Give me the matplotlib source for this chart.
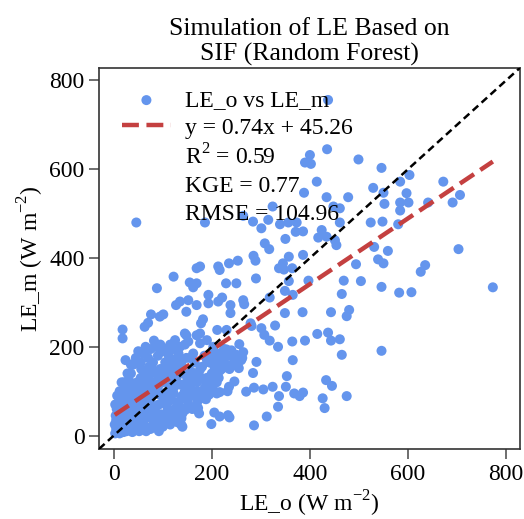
import numpy as np
import matplotlib
matplotlib.use("Agg")
import matplotlib.pyplot as plt

plt.rcParams["font.family"] = ["Liberation Serif", "DejaVu Serif"]
plt.rcParams["mathtext.fontset"] = "custom"
plt.rcParams["mathtext.rm"] = "Liberation Serif"

# observed LE (x) and modelled LE (y), read off the reference
# sparse / outer points
le_o_outer = [437, 435, 400, 390, 402, 499, 546, 603, 584, 672, 414, 529, 550, 597, 706,
              388, 434, 478, 552, 584, 601, 641, 691, 448, 461, 324, 584, 264, 284, 315,
              186, 46, 339, 356, 373, 461, 524, 548, 580, 301, 371, 386, 424, 434, 417,
              350, 451, 454, 308, 317, 531, 559, 703, 386, 357, 285, 289, 253, 235, 213,
              216, 539, 550, 635, 494, 345, 347, 364, 337, 626, 176, 169, 122, 290, 397,
              469, 504, 357, 155, 169, 229, 250, 162, 88, 546, 773, 582, 607, 465, 365,
              349, 193, 221, 318, 264, 266, 135, 152, 127, 169, 193, 213, 238, 148, 238,
              349, 385, 443, 480, 475, 76, 101, 94, 182, 178, 70, 63, 279, 281, 301,
              329, 18, 18, 82, 145, 176, 211, 230, 415, 437, 307, 318, 335, 364, 390,
              443, 461, 546, 465, 365, 291, 24, 256, 230, 284, 353, 433, 445, 351, 386,
              379, 368, 475, 426, 430, 337, 335, 324, 305, 270, 286, 312, 286, 235, 233,
              236, 216, 205, 199, 169, 174, 138, 138, 118, 184, 203, 210,
              250, 260, 255, 244, 237, 216, 203, 190, 206, 216, 176, 158, 193, 189, 203,
              162, 158, 153, 138, 162, 152, 176, 203, 190, 148, 169]
le_m_outer = [756, 645, 632, 615, 612, 622, 603, 587, 572, 572, 572, 558, 547, 546, 542,
              547, 537, 537, 522, 525, 525, 525, 525, 516, 512, 516, 507, 495, 482, 486,
              480, 480, 476, 480, 480, 480, 480, 482, 476, 467, 459, 460, 463, 448, 446,
              443, 440, 429, 433, 420, 425, 416, 420, 407, 403, 405, 394, 394, 388, 381,
              373, 397, 388, 384, 386, 388, 374, 377, 377, 369, 381, 377, 358, 354, 349,
              349, 348, 348, 345, 343, 343, 343, 334, 332, 335, 334, 322, 323, 319, 317,
              326, 317, 311, 311, 305, 296, 302, 305, 294, 294, 298, 302, 294, 279, 276,
              276, 278, 278, 283, 269, 273, 273, 268, 262, 253, 254, 245, 253, 247, 242,
              248, 239, 219, 214, 230, 230, 238, 238, 229, 232, 227, 214, 200, 212, 214,
              214, 217, 191, 182, 170, 166, 170, 206, 194, 141, 134, 125, 112, 110, 97,
              89, 95, 89, 84, 62, 89, 65, 110, 104, 99, 108, 43, 23, 110, 46,
              41, 43, 52, 26, 59, 50, 24, 39, 39, 84, 103, 95,
              182, 170, 152, 159, 180, 185, 174, 170, 155, 146, 149, 144, 125, 114, 125,
              122, 103, 95, 84, 185, 212, 208, 200, 215, 226, 226]

# dense cluster near the origin
le_o_core = [3, 5, 8, 10, 12, 15, 18, 20, 22, 25, 28, 30, 32, 35, 38, 40, 42, 45, 48, 50,
             5, 8, 10, 12, 15, 18, 20, 22, 25, 28, 30, 33, 36, 40, 42, 45, 48, 50, 52, 55,
             58, 60, 62, 65, 68, 70, 72, 75, 78, 80, 82, 85, 88, 90, 92, 95, 98, 100, 102, 105,
             108, 110, 112, 115, 118, 120, 122, 125, 128, 130, 132, 135, 138, 140, 142, 145, 148, 150,
             60, 65, 70, 75, 80, 85, 90, 95, 100, 105, 110, 115, 120, 125, 130, 135, 140,
             55, 60, 70, 80, 90, 100, 110, 120, 130, 140, 150, 155, 160, 165, 170, 175, 180,
             185, 190, 195, 200, 205, 210, 215, 220, 225, 230, 160, 170, 180, 195,
             15, 18, 25, 30, 35, 40, 45, 50, 55, 60, 65, 70, 75, 85, 95, 105, 115, 125, 135, 145,
             2, 4, 6, 3, 10, 7, 12, 20, 28, 35,
             14, 24, 34, 44, 54, 64, 74, 84, 94, 104, 114, 124, 16, 26, 36, 46, 56, 66, 76, 86,
             96, 106, 116, 126, 136, 146, 156, 166, 176, 186, 196, 206, 216, 226, 236, 246, 256,
             38, 52, 66, 78, 92, 108, 118, 128, 62, 72, 82, 92, 102, 112, 122, 132, 142, 152,
             170, 182, 194, 208, 222, 240, 252, 264, 172, 188, 200, 214, 232, 246, 262]
le_m_core = [5, 15, 10, 25, 5, 18, 30, 8, 40, 20, 12, 35, 50, 25, 8, 45, 18, 60, 30, 12,
             35, 45, 55, 40, 62, 50, 70, 58, 80, 68, 90, 75, 100, 85, 110, 95, 120, 75, 105, 130,
             90, 115, 145, 60, 100, 130, 155, 80, 120, 165, 50, 140, 105, 180, 70, 150, 125, 190, 85, 165,
             140, 60, 180, 110, 150, 195, 95, 170, 130, 75, 185, 115, 160, 50, 140, 100, 175, 130,
             30, 20, 45, 15, 35, 25, 40, 30, 20, 45, 35, 25, 55, 40, 30, 65, 20,
             45, 70, 85, 95, 110, 120, 100, 125, 145, 90, 80, 110, 140, 165, 120, 95, 155,
             180, 130, 165, 185, 140, 120, 170, 150, 195, 160, 60, 75, 100, 110,
             85, 100, 110, 125, 140, 160, 175, 190, 165, 185, 200, 175, 195, 200, 205, 195, 205, 215, 200, 205,
             25, 45, 60, 70, 75, 90, 100, 120, 140, 160,
             28, 52, 68, 22, 84, 38, 108, 58, 92, 72, 132, 112, 120, 10, 42, 78, 150, 10, 66, 120,
             48, 150, 80, 62, 168, 58, 175, 88, 132, 108, 165, 152, 98, 178, 150, 168, 178,
             118, 10, 140, 150, 10, 70, 172, 160, 52, 112, 28, 135, 95, 158, 108, 48, 115, 70,
             100, 128, 92, 160, 175, 192, 160, 188, 62, 82, 140, 130, 100, 122, 175]

le_o = np.array(le_o_outer + le_o_core, dtype=float)
le_m = np.array(le_m_outer + le_m_core, dtype=float)

slope, intercept = 0.74, 45.26
r2, kge, rmse = 0.59, 0.77, 104.96
lims = (-30, 828)

fig = plt.figure(figsize=(5.24, 5.19), dpi=100)
ax = fig.add_axes([0.189, 0.135, 0.803, 0.734])

ax.scatter(le_o, le_m, s=52, color="#6495ED", edgecolors="none", zorder=2,
           label="LE_o vs LE_m")
xfit = np.array([le_o.min(), le_o.max()])
ax.plot(xfit, slope * xfit + intercept, color="#c44040", lw=3.2, ls=(0, (3.8, 1.7)),
        zorder=3, label=f"y = {slope:.2f}x + {intercept:.2f}")
ax.plot(lims, lims, color="black", lw=1.8, ls=(0, (3, 1.8)), zorder=4)
ax.plot([], [], " ", label=f"R$^2$ = {r2:.2f}")
ax.plot([], [], " ", label=f"KGE = {kge:.2f}")
ax.plot([], [], " ", label=f"RMSE = {rmse:.2f}")

ax.set_xlim(lims)
ax.set_ylim(lims)
ax.set_xticks([0, 200, 400, 600, 800])
ax.set_yticks([0, 200, 400, 600, 800])
ax.tick_params(labelsize=17, length=7, width=1.2, color="#555555")
for sp in ax.spines.values():
    sp.set_linewidth(1.2)
    sp.set_color("#333333")

ax.set_xlabel("LE_o (W m$^{-2}$)", fontsize=17, labelpad=3)
ax.set_ylabel("LE_m (W m$^{-2}$)", fontsize=17, labelpad=2)
ax.set_title("Simulation of LE Based on\nSIF (Random Forest)", fontsize=18.5,
             linespacing=1.2, pad=5)

ax.legend(loc="upper left", frameon=False, fontsize=17, handlelength=2.1,
          handletextpad=0.6, labelspacing=0.25, borderaxespad=0.2,
          bbox_to_anchor=(0.02, 0.98))

fig.savefig("out.png", dpi=100)
